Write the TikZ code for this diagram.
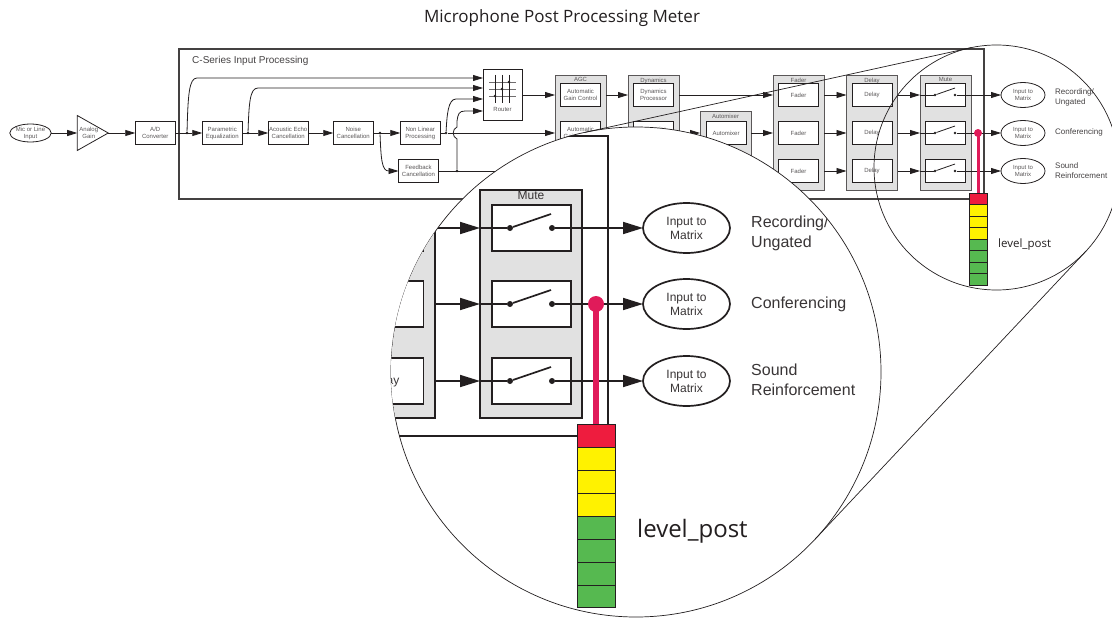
\documentclass[tikz,border=0pt]{standalone}
\usepackage{fontspec}
\setmainfont{Liberation Sans}
\newfontfamily\titlefont{Open Sans}
\usetikzlibrary{arrows.meta,positioning,calc,shapes.geometric}
\definecolor{ink}{HTML}{231F20}
\definecolor{panel}{HTML}{E1E1E1}
\definecolor{probe}{HTML}{E01B5A}
\definecolor{meterred}{HTML}{EE1C3E}
\definecolor{meteryellow}{HTML}{FFF200}
\definecolor{metergreen}{HTML}{56B950}
\tikzset{wire/.style={draw=ink,line width=.8pt},flow/.style={wire,-{Triangle[length=10pt,width=6pt]}},bigwire/.style={draw=ink,line width=1.7pt},bigflow/.style={bigwire,-{Triangle[length=20pt,width=12pt]}},
tiny/.style={font=\fontsize{6}{7}\selectfont,text=ink!75,align=center,inner sep=0pt},big/.style={font=\fontsize{12}{14}\selectfont,text=ink!90,align=center,inner sep=0pt},
box/.style={tiny,draw=ink,line width=.8pt,fill=white,minimum width=40pt,minimum height=23pt,outer sep=0pt},bigbox/.style={big,draw=ink,line width=1.7pt,fill=white,minimum width=79pt,minimum height=46pt,outer sep=0pt},
group/.style={draw=ink!75,line width=1pt,fill=panel,minimum width=51pt,minimum height=114pt,outer sep=0pt},biggroup/.style={draw=ink,line width=1.7pt,fill=panel,minimum width=102pt,minimum height=228pt,outer sep=0pt},
oval/.style={tiny,ellipse,draw=ink,line width=.8pt,minimum width=44pt,minimum height=25pt,outer sep=0pt},bigoval/.style={big,ellipse,draw=ink,line width=1.7pt,minimum width=87pt,minimum height=50pt,outer sep=0pt},
dot/.style={circle,fill=ink,minimum size=2.6pt,inner sep=0pt},bigdot/.style={circle,fill=ink,minimum size=6pt,inner sep=0pt},
lens/.style={circle,draw=ink,line width=.7pt,inner sep=0pt,outer sep=0pt},note/.style={font=\fontsize{8}{10}\selectfont,text=ink!85,align=left,inner sep=0pt,anchor=west},bignote/.style={font=\fontsize{16}{20}\selectfont,text=ink!90,align=left,inner sep=0pt,anchor=west},
cell/.style={draw=ink,line width=.6pt,minimum width=18pt,minimum height=11.5pt,outer sep=0pt,inner sep=0pt},bigcell/.style={cell,minimum width=38pt,minimum height=22.9pt}}
\begin{document}
\begin{tikzpicture}[x=1pt,y=-1pt,node distance=27pt]
\clip (0,0) rectangle (1112,618);
\node[font=\titlefont\fontsize{17}{20}\selectfont,text=ink] (title) at (562,18) {Microphone Post Processing Meter};
\node[draw=ink!85,line width=1.2pt,minimum width=805pt,minimum height=150pt,outer sep=0pt] (frame) at (581.5,124) {};
\node[font=\fontsize{10}{12}\selectfont,text=ink!85,anchor=west,inner sep=0pt] (frametitle) at (192,61) {C-Series Input Processing};
\node[oval,minimum width=39pt,minimum height=18pt] (mic) at (30.5,133) {Mic or Line\\Input};
\node[isosceles triangle,isosceles triangle stretches,draw=ink,line width=.8pt,minimum width=35pt,minimum height=31pt,inner sep=0pt,outer sep=0pt,right=26pt of mic] (gain) {};
\node[tiny,right=2pt of gain.west] (gaintitle) {Analog\\Gain};
\node[box,right=of gain] (ad) {A/D\\Converter};
\node[box,right=of ad] (eq) {Parametric\\Equalization};
\node[box,right=26pt of eq] (aec) {Acoustic Echo\\Cancellation};
\node[box,right=25pt of aec] (noise) {Noise\\Cancellation};
\node[box,right=of noise] (nonlin) {Non Linear\\Processing};
\node[box] (feedback) at (418.5,171) {Feedback\\Cancellation};
\node[box,minimum width=39pt,minimum height=51pt] (router) at (502.5,94.5) {};
\node[tiny,above=8pt of router.south] (routertitle) {Router};
\draw[draw=ink!65,line width=.8pt] (489,82)--(516,82) (489,89)--(516,89) (489,96)--(516,96);
\draw[wire] (495,75)--(495,103) (502,75)--(502,103) (509,75)--(509,103);
\node[dot] (cross1) at (495,96) {};\node[dot] (cross2) at (502,89) {};\node[dot] (cross3) at (509,82) {};
\node[dot] (tap1) at (187,133) {};\node[dot] (tap2) at (248,133) {};\node[dot] (tap3) at (380,133) {};\node[dot] (tap4) at (446,133) {};\node[dot] (tap5) at (457,171) {};
\coordinate (rin1) at (483,78);\coordinate (rin2) at (483,88);\coordinate (rin3) at (483,99);\coordinate (rin4) at (483,111);\coordinate (fbend) at (520,171);
\node[group] (agc) at (580.5,133) {};
\node[group] (dyn) at (653.5,133) {};
\node[group,minimum height=84pt] (mix) at (725.5,154) {};
\node[group] (fader) at (798.5,133) {};
\node[group] (delay) at (872,133) {};
\node[group] (mute) at (945.5,133) {};
\node[tiny,below=1.5pt of agc.north] (agctitle) {AGC};
\node[tiny,below=1.5pt of dyn.north] (dyntitle) {Dynamics};
\node[tiny,below=1.5pt of mix.north] (mixtitle) {Automixer};
\node[tiny,below=1.5pt of fader.north] (fadertitle) {Fader};
\node[tiny,below=1.5pt of delay.north] (delaytitle) {Delay};
\node[tiny,below=1.5pt of mute.north] (mutetitle) {Mute};
\node[box] (agc1) at (580.5,95) {Automatic\\Gain Control};
\node[box] (agc2) at (580.5,133) {Automatic\\Gain Control};
\node[box] (dyn1) at (653.5,95) {Dynamics\\Processor};
\node[box] (dyn2) at (653.5,133) {Dynamics\\Processor};
\node[box] (mix2) at (726,133) {Automixer};
\foreach \r/\y in {1/95,2/133,3/171}{
\node[box] (fader\r) at (798.5,\y) {Fader};
\node[box] (delay\r) at (872,\y) {Delay};
\node[box] (mute\r) at (945,\y) {};
\node[dot] (open\r) at (935,\y) {};\node[dot] (close\r) at (955,\y) {};
\node[oval] (out\r) at (1023,\y) {Input to\\Matrix};
\draw[wire] (open\r) -- ++(20,-7);
\draw[flow] (fader.east|-fader\r) -- (delay.west|-delay\r);
\draw[flow] (delay.east|-delay\r) -- (mute.west|-mute\r);
\draw[wire] (mute.west|-mute\r) -- (open\r);
\draw[flow] (close\r) -- (out\r);
}
\draw[flow] (mic) -- (gain);\draw[flow] (gain) -- (ad);\draw[flow] (ad) -- (eq);\draw[flow] (eq) -- (aec);\draw[flow] (aec) -- (noise);\draw[flow] (noise) -- (nonlin);
\draw[flow] (tap1) .. controls (188,95) and (189,78) .. (197,78) -- (rin1);
\draw[flow] (tap2) .. controls (249,102) and (250,88) .. (258,88) -- (rin2);
\draw[flow] (tap3) .. controls (381,160) and (382,171) .. (feedback.west);
\draw[flow] (tap4) .. controls (447,115) and (448,99) .. (456,99) -- (rin3);
\draw[flow] (tap5) -- (457,139) .. controls (452,137) and (452,129) .. (457,127) -- (457,121) .. controls (458,114) and (459,111) .. (465,111) -- (rin4);
\draw[wire] (nonlin) -- (tap4);\draw[flow] (tap4) -- (agc.west|-agc2);
\draw[wire] (feedback) -- (fbend);
\draw[flow] (router.east|-agc1) -- (agc.west|-agc1);
\draw[flow] (agc.east|-agc1) -- (dyn.west|-dyn1);
\draw[flow] (dyn.east|-dyn2) -- (mix.west|-mix2);
\draw[flow] (dyn.east|-dyn1) -- (fader.west|-fader1);
\draw[flow] (mix.east|-mix2) -- (fader.west|-fader2);
\node[note] (use1) at (1055,97) {Recording/\\Ungated};
\node[note] (use2) at (1055,132) {Conferencing};
\node[note] (use3) at (1055,170.5) {Sound\\Reinforcement};
\draw[draw=probe,line width=3pt] (978,133) -- (978,193);
\node[circle,fill=probe,minimum size=8pt,inner sep=0pt] (tapsmall) at (978,133) {};
\foreach \i/\c in {0/meterred,1/meteryellow,2/meteryellow,3/meteryellow,4/metergreen,5/metergreen,6/metergreen,7/metergreen}
\node[cell,fill=\c] (meter\i) at (978,{198.75+11.5*\i}) {};
\node[font=\titlefont\fontsize{11.5}{14}\selectfont,text=ink,anchor=west,inner sep=0pt] (levelsmall) at (998,245) {level\_post};
\node[lens,minimum size=245pt] (lenssmall) at (996.5,167.5) {};
\node[lens,fill=white,minimum size=490pt] (lensbig) at (636,372) {};
\draw[draw=ink,line width=.7pt] (lenssmall.102.38) -- (lensbig.102.38);
\draw[draw=ink,line width=.7pt] (lenssmall.-43.24) -- (lensbig.-43.24);
\begin{scope}
\clip (636,372) circle (245pt);
\node[draw=ink,line width=1.7pt,minimum width=1610pt,minimum height=300pt,outer sep=0pt] (bigframe) at (-197,286) {};
\node[biggroup] (bigdelay) at (384,304) {};
\node[biggroup] (bigmute) at (531,304) {};
\node[big,below=1.5pt of bigmute.north] (bigmutetitle) {Mute};
\foreach \r/\y in {1/228,2/304,3/381}{
\node[bigbox] (bigdelay\r) at (384,\y) {Delay};
\node[bigbox] (bigmute\r) at (531.5,\y) {};
\node[bigdot] (bigopen\r) at (510,\y) {};\node[bigdot] (bigclose\r) at (552,\y) {};
\node[bigoval] (bigout\r) at (686.5,\y) {Input to\\Matrix};
\draw[bigwire] (bigopen\r) -- ++(41,-14);
\draw[bigflow] (bigdelay.east|-bigdelay\r) -- (bigmute.west|-bigmute\r);
\draw[bigwire] (bigmute.west|-bigmute\r) -- (bigopen\r);
\draw[bigflow] (bigclose\r) -- (bigout\r);
}
\node[bignote] (biguse1) at (751,233) {Recording/\\Ungated};
\node[bignote] (biguse2) at (751,304) {Conferencing};
\node[bignote] (biguse3) at (751,380) {Sound\\Reinforcement};
\draw[draw=probe,line width=6pt] (596,304) -- (596,425);
\node[circle,fill=probe,minimum size=16pt,inner sep=0pt] (tapbig) at (596,304) {};
\foreach \i/\c in {0/meterred,1/meteryellow,2/meteryellow,3/meteryellow,4/metergreen,5/metergreen,6/metergreen,7/metergreen}
\node[bigcell,fill=\c] (bigmeter\i) at (596,{436+22.9*\i}) {};
\node[font=\titlefont\fontsize{24}{28}\selectfont,text=ink,anchor=west,inner sep=0pt] (levelbig) at (637,531) {level\_post};
\end{scope}
\end{tikzpicture}
\end{document}
